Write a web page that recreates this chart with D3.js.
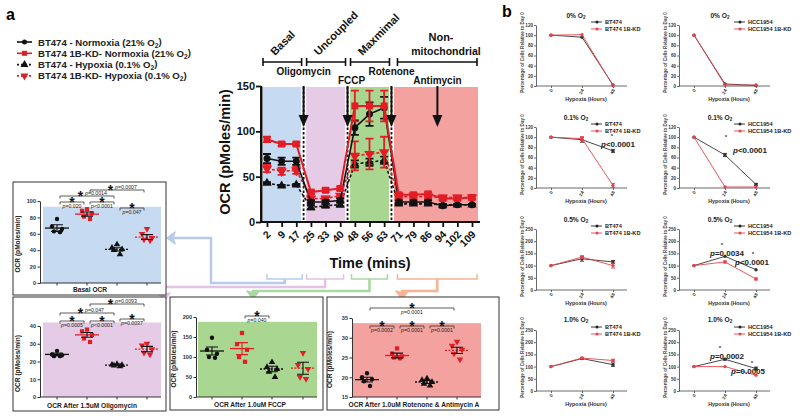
<!DOCTYPE html>
<html><head><meta charset="utf-8">
<script src="https://cdn.jsdelivr.net/npm/d3@7/dist/d3.min.js"></script>
<style>
html,body{margin:0;padding:0;background:#fff}
svg{display:block}
text{font-family:Arial,"Liberation Sans",Helvetica,sans-serif}
</style></head><body>
<svg id="chart" width="800" height="418"></svg>
<script>
// ================= DATA =================
// Panel a, main Seahorse trace
const times = ["2","9","17","25","33","40","48","56","63","71","79","86","94","102","109"];
const ocrNormoxia      = [70,67,67,22,22,24,104,119,126,22,22,22,18,19,19];
const ocrNormoxiaErr   = [5,4,4,2,2,2,8,13,12,2,2,2,2,1,1];
const ocrKDNormoxia    = [91,86,86,33,35,37,128,128,128,30,30,31,26,26,27];
const ocrKDNormoxiaErr = [3,2,2,2,2,2,17,17,17,2,2,2,2,2,2];
const ocrHypoxia       = [43,40,41,16,18,19,64,66,68,20,20,20,19,19,19];
const ocrHypoxiaErr    = [1,1,1,2,2,2,4,4,4,1,1,1,1,1,1];
const ocrKDHypoxia     = [59,56,57,26,26,29,73,75,77,28,28,28,27,27,27];
const ocrKDHypoxiaErr  = [4,4,4,2,2,2,16,17,17,2,2,2,2,2,2];
const legendNames = ["BT474 - Normoxia (21% O","BT474 1B-KD- Normoxia (21% O","BT474 - Hypoxia (0.1% O","BT474 1B-KD- Hypoxia (0.1% O"];
const phaseNames = ["Basal","Uncoupled","Maxmimal"];
const drugNames = ["Oligomycin","FCCP","Rotenone","Antimycin"];

// Panel a, dot plots (4 groups each)
const basalPts = [[78,69,66,63,62],[90,88,85,81,78],[47,43,41,40,35],[66,60,55,53,52]];
const basalMean = [67,84,41,56];
const basalSem  = [4,2.5,2,3];
const basalP = [["p=0.020",0,1],["p<0.0001",1,2],["p=0.047",2,3],["p=0.0014",0,2],["p=0.0007",1,3]];

const oligoPts = [[26,24,23.5,23,23],[38,37,35,33,31],[18.5,18.2,18,17.7,17.3],[30,29,27,25,24]];
const oligoMean = [24,35,18,27];
const oligoSem  = [0.7,1.3,0.3,1.5];
const oligoP = [["p=0.0005",0,1],["p<0.0001",1,2],["p=0.0037",2,3],["p=0.047",0,2],["p=0.0093",1,3]];

const fccpPts = [[148,118,108,100,98],[160,132,118,100,88],[87,75,70,63,50],[110,80,70,50,45]];
const fccpMean = [115,121,70,72];
const fccpSem  = [10,15,7,15];
const fccpP = [["p=0.040",1,2]];

const rotPts = [[21,20,19.5,19,17.8],[27.3,26,25.3,25,24.8],[19.7,19.3,18.8,18.3,17.9],[29,28,27,26,24.5]];
const rotMean = [19.4,25.5,18.8,26.8];
const rotSem  = [0.6,0.6,0.4,0.8];
const rotP = [["p=0.0002",0,1],["p=0.0001",1,2],["p=0.0001",2,3],["p=0.0001",0,3]];

// Panel b
const hours = ["0","24","48"];
const bt474_0 = [100,96,2],   bt474kd_0 = [100,101,1];
const hcc_0   = [100,4,1],    hcckd_0   = [100,2,2];
const bt474_01 = [100,95,73], bt474kd_01 = [100,97,5];
const bt474_01Err = [0,5,3],  bt474kd_01Err = [0,4,4];
const hcc_01  = [100,65,7],   hcckd_01  = [100,2,2];
const hcc_01Err = [0,3,2];
const bt474_05 = [100,128,115], bt474kd_05 = [100,135,100];
const bt474_05Err = [0,10,6],   bt474kd_05Err = [0,5,10];
const hcc_05  = [100,138,83],  hcckd_05 = [100,115,45];
const hcckd_05Err = [0,4,4];
const bt474_1 = [100,133,108], bt474kd_1 = [100,135,125];
const bt474_1Err = [0,3,7],    bt474kd_1Err = [0,3,5];
const hcc_1   = [100,130,92],  hcckd_1  = [100,100,65];
const hcc_1Err = [0,3,6];
const titlesB = ["0% O","0.1% O","0.5% O","1.0% O"];
const namesBT = ["BT474","BT474 1B-KD"];
const namesHCC = ["HCC1954","HCC1954 1B-KD"];

// ================= DRAWING =================
const svg = d3.select("#chart");
const BLK = "#111", RED = "#e31d25", REDB = "#e6444c";

function mark(g, type, cx, cy, color, s) {
  if (type === "circle") g.append("circle").attr("cx",cx).attr("cy",cy).attr("r",s*0.5).attr("fill",color);
  else if (type === "square") g.append("rect").attr("x",cx-s/2).attr("y",cy-s/2).attr("width",s).attr("height",s).attr("fill",color);
  else {
    g.append("path").attr("d",d3.symbol(d3.symbolTriangle, s*s*0.75)())
      .attr("transform",`translate(${cx},${cy})${type==="triDown"?" rotate(180)":""}`).attr("fill",color);
  }
}
function sub2(t, base) {
  t.append("tspan").text(base);
  t.append("tspan").attr("font-size","0.7em").attr("dy","0.3em").text("2");
}

// ---- labels a / b
svg.append("text").attr("x",6).attr("y",20).attr("font-size",16).attr("font-weight","bold").text("a");
svg.append("text").attr("x",502).attr("y",17).attr("font-size",16).attr("font-weight","bold").text("b");

// ---- legend
const legendStyle = [
  {c:BLK, d:null, m:"circle"},{c:RED, d:null, m:"square"},{c:BLK, d:"2,2", m:"tri"},{c:RED, d:"2,2", m:"triDown"}];
legendStyle.forEach((st,i)=>{
  const yy = 42 + i*11.3;
  const g = svg.append("g");
  g.append("line").attr("x1",17).attr("x2",32).attr("y1",yy).attr("y2",yy).attr("stroke",st.c).attr("stroke-width",1.6).attr("stroke-dasharray",st.d);
  mark(g, st.m, 24.5, yy, st.c, st.m==="circle"?5:st.m==="square"?5:6);
  const t = svg.append("text").attr("x",38).attr("y",yy+3.5).attr("font-size",9.6).attr("font-weight","bold").attr("fill","#222");
  sub2(t, legendNames[i]);
  t.append("tspan").attr("dy","-0.3em").text(")");
});

// ---- main chart
const x = d3.scalePoint().domain(times).range([267,472]);
const y = d3.scaleLinear().domain([0,150]).range([222,86]);
const mid = k => (x(times[k]) + x(times[k+1]))/2;
const gM = svg.append("g");
const bands = [
  {x0:263, x1:mid(2)-2.5, c:"#c6dbf1"},
  {x0:mid(2)+2.5, x1:mid(5)-2.5, c:"#e5cbe6"},
  {x0:mid(5)+2.5, x1:mid(8)-2.5, c:"#a9d690"},
  {x0:mid(8)+2.5, x1:478, c:"#f4a2a0"}];
bands.forEach(b=>gM.append("rect").attr("x",b.x0).attr("y",y(150)+1).attr("width",b.x1-b.x0).attr("height",y(0)-y(150)-1).attr("fill",b.c));
[2,5,8].forEach(k=>{
  gM.append("line").attr("x1",mid(k)).attr("x2",mid(k)).attr("y1",y(150)+1).attr("y2",y(0)).attr("stroke",BLK).attr("stroke-width",1.8).attr("stroke-dasharray","2.5,2");
});
const yAx = gM.append("g").attr("transform","translate(261,0)").call(d3.axisLeft(y).tickValues([0,50,100,150]).tickSize(5).tickSizeOuter(0));
yAx.select(".domain").attr("stroke",BLK).attr("stroke-width",2);
yAx.selectAll(".tick line").attr("stroke",BLK).attr("stroke-width",1.8);
yAx.selectAll(".tick text").attr("font-size",11).attr("font-weight","bold").attr("fill",BLK).attr("x",-6);
gM.append("line").attr("x1",261).attr("x2",261).attr("y1",y(150)).attr("y2",y(0)+1).attr("stroke",BLK).attr("stroke-width",2);
const xAx = gM.append("g").attr("transform",`translate(0,${y(0)})`).call(d3.axisBottom(x).tickSize(5).tickSizeOuter(0));
xAx.select(".domain").attr("d",`M260,0H480`).attr("stroke",BLK).attr("stroke-width",2);
xAx.selectAll(".tick line").attr("stroke",BLK).attr("stroke-width",1.8);
xAx.selectAll(".tick text").attr("font-size",10.5).attr("font-weight","bold").attr("fill",BLK)
  .attr("text-anchor","end").attr("dy",0).attr("y",0).attr("transform","translate(4,13) rotate(-45)");
gM.append("text").attr("x",370).attr("y",268).attr("text-anchor","middle").attr("font-size",14.5).attr("font-weight","bold").attr("fill",BLK).text("Time (mins)");
gM.append("text").attr("transform","translate(230,152) rotate(-90)").attr("text-anchor","middle").attr("font-size",14.5).attr("font-weight","bold").attr("fill",BLK).text("OCR (pMoles/min)");

const series = [
  {v:ocrHypoxia, e:ocrHypoxiaErr, c:BLK, d:"3,2", m:"tri", s:7},
  {v:ocrKDHypoxia, e:ocrKDHypoxiaErr, c:RED, d:"3,2", m:"triDown", s:8},
  {v:ocrNormoxia, e:ocrNormoxiaErr, c:BLK, d:null, m:"circle", s:7},
  {v:ocrKDNormoxia, e:ocrKDNormoxiaErr, c:RED, d:null, m:"square", s:7}];
const line = d3.line().x((d,i)=>x(times[i])).y(d=>y(d));
series.forEach(sr=>{
  const g = gM.append("g");
  g.append("path").attr("d",line(sr.v)).attr("fill","none").attr("stroke",sr.c).attr("stroke-width",sr.m==="square"?2:1.6).attr("stroke-dasharray",sr.d);
  sr.v.forEach((v,i)=>{
    const cx = x(times[i]), e = sr.e[i];
    g.append("path").attr("d",`M${cx},${y(v-e)}V${y(v+e)}M${cx-4},${y(v+e)}H${cx+4}M${cx-4},${y(v-e)}H${cx+4}`)
      .attr("stroke",sr.c).attr("stroke-width",1.8).attr("fill","none");
    mark(g, sr.m, cx, y(v), sr.c, sr.s);
  });
});
const arrowX = [mid(2), mid(5), mid(8), mid(11)+2];
arrowX.forEach(ax=>{
  gM.append("line").attr("x1",ax).attr("x2",ax).attr("y1",86).attr("y2",117).attr("stroke",BLK).attr("stroke-width",2);
  gM.append("path").attr("d",`M${ax-5},${115}L${ax+5},${115}L${ax},${127}Z`).attr("fill",BLK);
});
const drugY = [75,84,75,84];
drugNames.forEach((n,i)=>gM.append("text").attr("x",arrowX[i]+(i===1?4:0)).attr("y",drugY[i]).attr("text-anchor","middle").attr("font-size",10).attr("font-weight","bold").attr("fill",BLK).text(n));
const brk = [[263,mid(2)-2],[mid(2)+3,mid(5)-2],[mid(5)+3,mid(8)-2],[mid(8)+6,477]];
brk.forEach(b=>gM.append("path").attr("d",`M${b[0]},58V66M${b[0]},62H${b[1]}M${b[1]},58V66`).attr("stroke",BLK).attr("stroke-width",1.6).attr("fill","none"));
phaseNames.forEach((n,i)=>{
  gM.append("text").attr("transform",`translate(${brk[i][0]+12},${56}) rotate(-45)`).attr("font-size",11).attr("font-weight","bold").attr("fill",BLK).text(n);
});
gM.append("text").attr("x",441).attr("y",41).attr("text-anchor","middle").attr("font-size",11).attr("font-weight","bold").attr("fill",BLK).text("Non-");
gM.append("text").attr("x",446).attr("y",55).attr("text-anchor","middle").attr("font-size",10.5).attr("font-weight","bold").attr("fill",BLK).text("mitochondrial");

// ---- connectors
const conn = [
  {b:[x(times[0]),x(times[2])+6], c:"#b9cbea", path:(cx)=>`M${cx},279V283H211V238H173`, head:[167,238,"left"], vy:0},
  {b:[mid(2)+3,mid(5)-4], c:"#e2c3e3", path:(cx)=>`M${cx},279V287H164`, head:[164,301,"down"], vy:287},
  {b:[mid(5)+4,mid(8)-4], c:"#a9d9a2", path:(cx)=>`M${cx},279V291H253`, head:[253,299,"down"], vy:291},
  {b:[mid(8)+6,477], c:"#f7b394", path:(cx)=>`M${cx},279V291H402`, head:[402,299,"down"], vy:291}];
conn.forEach(cn=>{
  const cx = (cn.b[0]+cn.b[1])/2;
  svg.append("path").attr("d",`M${cn.b[0]},274V279H${cn.b[1]}V274`).attr("stroke",cn.c).attr("stroke-width",1.5).attr("fill","none");
  svg.append("path").attr("d",cn.path(cx)).attr("stroke",cn.c).attr("stroke-width",2.6).attr("fill","none");
  const [hx,hy,dir] = cn.head;
  const d = dir==="left" ? `M${hx},${hy}L${hx+8},${hy-6}L${hx+6},${hy}L${hx+8},${hy+6}Z` : `M${hx},${hy}L${hx-6},${hy-8}L${hx},${hy-6}L${hx+6},${hy-8}Z`;
  svg.append("path").attr("d",d).attr("fill",cn.c).attr("stroke",cn.c).attr("stroke-width",1.5).attr("stroke-linejoin","round");
  if (dir==="down") svg.append("line").attr("x1",hx).attr("x2",hx).attr("y1",cn.vy-1).attr("y2",hy-5).attr("stroke",cn.c).attr("stroke-width",2.6);
});

// ---- dot panels
const grpStyle = [{c:BLK,m:"circle",d:null,mc:BLK},{c:RED,m:"square",d:null,mc:RED},{c:BLK,m:"tri",d:"2,1.5",mc:BLK},{c:RED,m:"triDown",d:"2,1.5",mc:RED}];
const jit = [0,-5,5,-3,3];
function asterisk(g, cx, cy, size) {
  g.append("text").attr("x",cx).attr("y",cy+size*0.58).attr("text-anchor","middle").attr("font-size",size).attr("font-weight","bold").attr("fill",BLK).text("*");
}
function ptext(g, xx, yy, s, anchor) {
  const t = g.append("text").attr("x",xx).attr("y",yy).attr("text-anchor",anchor).attr("font-size",5.2).attr("fill","#222");
  t.append("tspan").attr("font-style","italic").text(s[0]);
  t.append("tspan").text(s.slice(1));
}
function dotPanel(o) {
  const g = svg.append("g");
  g.append("rect").attr("x",o.box[0]).attr("y",o.box[1]).attr("width",o.box[2]-o.box[0]).attr("height",o.box[3]-o.box[1]).attr("fill","#fff").attr("stroke","#333").attr("stroke-width",1);
  const ys = d3.scaleLinear().domain(o.domain).range(o.yr);
  g.append("rect").attr("x",o.bg[0]).attr("y",ys(o.bgTop)).attr("width",o.bg[1]-o.bg[0]).attr("height",ys(o.domain[0])-ys(o.bgTop)).attr("fill",o.color);
  const ax = g.append("g").attr("transform",`translate(${o.ax},0)`).call(d3.axisLeft(ys).tickValues(o.ticks).tickSize(2.5).tickSizeOuter(0));
  ax.select(".domain").attr("stroke","#333");
  ax.selectAll(".tick line").attr("stroke","#333");
  ax.selectAll(".tick text").attr("font-size",5.6).attr("font-weight","bold").attr("fill","#333").attr("x",-4);
  const y0 = ys(o.domain[0]);
  g.append("line").attr("x1",o.ax).attr("x2",o.bg[1]).attr("y1",y0).attr("y2",y0).attr("stroke","#333");
  o.gx.forEach(gx=>g.append("line").attr("x1",gx).attr("x2",gx).attr("y1",y0).attr("y2",y0+2.5).attr("stroke","#333"));
  g.append("text").attr("transform",`translate(${o.ax-20},${(ys(o.domain[1])+y0)/2+2}) rotate(-90)`).attr("text-anchor","middle").attr("font-size",6.6).attr("font-weight","bold").attr("fill","#222").text("OCR (pMoles/min)");
  g.append("text").attr("x",o.xlx).attr("y",o.box[3]-3).attr("text-anchor","middle").attr("font-size",6.6).attr("font-weight","bold").attr("fill","#222").text(o.xlabel);
  o.pts.forEach((arr,gi)=>{
    const st = grpStyle[gi], gx = o.gx[gi];
    arr.forEach((v,k)=>mark(g, st.m, gx+jit[k], ys(v), st.c, st.m==="circle"?4.4:st.m==="square"?4.2:5));
    const m = o.mean[gi], s = o.sem[gi];
    g.append("line").attr("x1",gx-12).attr("x2",gx+12).attr("y1",ys(m)).attr("y2",ys(m)).attr("stroke",st.mc).attr("stroke-width",1.3).attr("stroke-dasharray",st.d);
    g.append("path").attr("d",`M${gx},${ys(m-s)}V${ys(m+s)}M${gx-6},${ys(m+s)}H${gx+6}M${gx-6},${ys(m-s)}H${gx+6}`).attr("stroke",o.semRed&&gi===1?RED:BLK).attr("stroke-width",1.1).attr("fill","none");
  });
  o.p.forEach((p,i)=>{
    const L = o.pl[i];
    const x1 = o.gx[p[1]]+3, x2 = o.gx[p[2]]-3;
    g.append("path").attr("d",`M${x1},${L.y+2.5}V${L.y}H${x2}V${L.y+2.5}`).attr("stroke","#333").attr("stroke-width",0.8).attr("fill","none");
    if (L.mode==="side") {
      const sx = x1 + (x2-x1)*0.38;
      asterisk(g, sx, L.y-3.5, 14);
      ptext(g, sx+4.5, L.y-1.5, p[0], "start");
    } else {
      asterisk(g, (x1+x2)/2, L.y-3.5, 14);
      ptext(g, (x1+x2)/2, L.y+5.5, p[0], "middle");
    }
  });
}
dotPanel({box:[13,182,166,295], domain:[0,100], yr:[283,201], ticks:[0,20,40,60,80,100], bg:[43,161], bgTop:93, color:"#c6dbf1", ax:40,
  gx:[57,87,117,147], pts:basalPts, mean:basalMean, sem:basalSem, p:basalP, xlabel:"Basal  OCR", xlx:90,
  pl:[{y:202},{y:202},{y:208},{y:196,mode:"side"},{y:190,mode:"side"}]});
dotPanel({box:[13,297,166,411], domain:[0,40], yr:[397,326], ticks:[0,10,20,30,40], bg:[43,161], bgTop:42, color:"#e5cbe6", ax:40,
  gx:[57,87,117,147], pts:oligoPts, mean:oligoMean, sem:oligoSem, p:oligoP, xlabel:"OCR After 1.5uM Oligomycin", xlx:92,
  pl:[{y:321},{y:321},{y:319},{y:313,mode:"side"},{y:304,mode:"side"}]});
dotPanel({box:[170,297,323,410], domain:[0,200], yr:[397,317], ticks:[0,50,100,150,200], bg:[198,317], bgTop:188, color:"#a9d690", ax:196,
  gx:[212,242,272,303], pts:fccpPts, mean:fccpMean, sem:fccpSem, p:fccpP, xlabel:"OCR After 1.0uM FCCP", xlx:250, semRed:true,
  pl:[{y:316}]});
dotPanel({box:[327,297,499,410], domain:[15,35], yr:[397,318], ticks:[15,20,25,30,35], bg:[353,481], bgTop:33.7, color:"#f4a2a0", ax:352,
  gx:[367,397,427,457], pts:rotPts, mean:rotMean, sem:rotSem, p:rotP, xlabel:"OCR After 1.0uM Rotenone & Antimycin A", xlx:414,
  pl:[{y:326},{y:326},{y:326},{y:308}]});

// ---- panel b line charts
const colsB = [{ax:536, xr:[551,613], xe:627, tx:576, lx:597},{ax:679, xr:[694,756], xe:770, tx:720, lx:740}];
const rowsB = [{y0:86,y1:25,max:120,step:20,ty:18,ly:22},{y0:188,y1:127,max:120,step:20,ty:120,ly:124},
               {y0:290,y1:229,max:250,step:50,ty:222,ly:226},{y0:391,y1:330,max:250,step:50,ty:322,ly:327}];
function lineChart(col,row,title,names,sA,sB,eA,eB,ann) {
  const g = svg.append("g");
  const xs = d3.scalePoint().domain(hours).range(col.xr);
  const ys = d3.scaleLinear().domain([0,row.max]).range([row.y0,row.y1]);
  const ax = g.append("g").attr("transform",`translate(${col.ax},0)`).call(d3.axisLeft(ys).tickValues(d3.range(0,row.max+1,row.step)).tickSize(2).tickSizeOuter(0));
  ax.select(".domain").attr("stroke","#444").attr("stroke-width",0.8);
  ax.selectAll(".tick line").attr("stroke","#444").attr("stroke-width",0.8);
  ax.selectAll(".tick text").attr("font-size",4.6).attr("font-weight","bold").attr("fill","#333").attr("x",-3);
  const xa = g.append("g").attr("transform",`translate(0,${row.y0})`).call(d3.axisBottom(xs).tickSize(2).tickSizeOuter(0));
  xa.select(".domain").attr("d",`M${col.ax},0H${col.xe}`).attr("stroke","#444").attr("stroke-width",0.8);
  xa.selectAll(".tick line").attr("stroke","#444").attr("stroke-width",0.8);
  xa.selectAll(".tick text").attr("font-size",4.6).attr("font-weight","bold").attr("fill","#333").attr("dy",0).attr("y",0).attr("text-anchor","end").attr("transform","translate(1.5,4) rotate(-65)");
  g.append("text").attr("x",(col.xr[0]+col.xr[1])/2+4).attr("y",row.y0+15).attr("text-anchor","middle").attr("font-size",5.4).attr("font-weight","bold").attr("fill","#333").text("Hypoxia (Hours)");
  g.append("text").attr("transform",`translate(${col.ax-12},${(row.y0+row.y1)/2-3}) rotate(-90)`).attr("text-anchor","middle").attr("font-size",4.6).attr("font-weight","bold").attr("fill","#444").text("Percentage of  Cells Relative to  Day 0");
  const t = g.append("text").attr("x",col.tx).attr("y",row.ty).attr("text-anchor","middle").attr("font-size",6.6).attr("font-weight","bold").attr("fill","#222");
  sub2(t, title);
  names.forEach((n,i)=>{
    const yy = row.ly + i*7;
    const c = i===0?"#222":REDB;
    g.append("line").attr("x1",col.lx-6).attr("x2",col.lx+5).attr("y1",yy).attr("y2",yy).attr("stroke",c).attr("stroke-width",0.9);
    g.append("circle").attr("cx",col.lx).attr("cy",yy).attr("r",1.5).attr("fill",c);
    g.append("text").attr("x",col.lx+8).attr("y",yy+2).attr("font-size",5.6).attr("font-weight","bold").attr("fill","#222").text(n);
  });
  const ln = d3.line().x((d,i)=>xs(hours[i])).y(d=>ys(d));
  [[sA,eA,"#333"],[sB,eB,REDB]].forEach(([s,e,c])=>{
    g.append("path").attr("d",ln(s)).attr("fill","none").attr("stroke",c).attr("stroke-width",0.9);
    s.forEach((v,i)=>{
      const cx = xs(hours[i]);
      if (e && e[i]) g.append("path").attr("d",`M${cx},${ys(v-e[i])}V${ys(v+e[i])}M${cx-2},${ys(v+e[i])}H${cx+2}M${cx-2},${ys(v-e[i])}H${cx+2}`).attr("stroke",c).attr("stroke-width",0.9).attr("fill","none");
      g.append("circle").attr("cx",cx).attr("cy",ys(v)).attr("r",1.7).attr("fill",c);
    });
  });
  (ann||[]).forEach(a=>{
    g.append("text").attr("x",a[0]).attr("y",a[1]).attr("text-anchor","middle").attr("font-size",6).attr("font-weight","bold").attr("fill","#333").text("*");
    const tt = g.append("text").attr("x",a[2]).attr("y",a[3]).attr("text-anchor","middle").attr("font-size",8).attr("font-weight","bold").attr("fill","#222");
    tt.append("tspan").attr("font-style","italic").text(a[4][0]);
    tt.append("tspan").text(a[4].slice(1));
  });
}
lineChart(colsB[0],rowsB[0],titlesB[0],namesBT,bt474_0,bt474kd_0,null,null);
lineChart(colsB[1],rowsB[0],titlesB[0],namesHCC,hcc_0,hcckd_0,null,null);
lineChart(colsB[0],rowsB[1],titlesB[1],namesBT,bt474_01,bt474kd_01,bt474_01Err,bt474kd_01Err,[[612,138,618,147,"p<0.0001"]]);
lineChart(colsB[1],rowsB[1],titlesB[1],namesHCC,hcc_01,hcckd_01,hcc_01Err,null,[[726,139,750,153,"p<0.0001"]]);
lineChart(colsB[0],rowsB[2],titlesB[2],namesBT,bt474_05,bt474kd_05,bt474_05Err,bt474kd_05Err);
lineChart(colsB[1],rowsB[2],titlesB[2],namesHCC,hcc_05,hcckd_05,null,hcckd_05Err,[[722,247,727,256,"p=0.0034"],[753,256,752,265,"p<0.0001"]]);
lineChart(colsB[0],rowsB[3],titlesB[3],namesBT,bt474_1,bt474kd_1,bt474_1Err,bt474kd_1Err);
lineChart(colsB[1],rowsB[3],titlesB[3],namesHCC,hcc_1,hcckd_1,hcc_1Err,null,[[720,350,727,359,"p=0.0002"],[752,365,748,374,"p=0.0005"]]);
</script></body></html>
